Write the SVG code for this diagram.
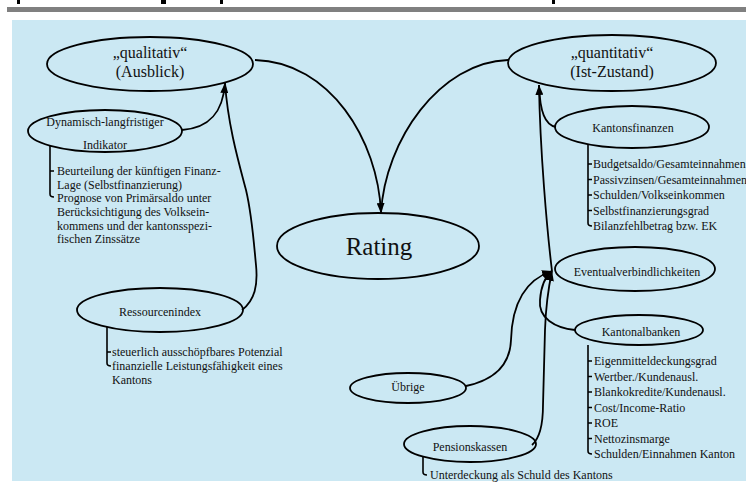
<svg xmlns="http://www.w3.org/2000/svg" width="746" height="493" viewBox="0 0 746 493">
<defs>
<marker id="arr" markerUnits="userSpaceOnUse" markerWidth="10" markerHeight="8" refX="10" refY="4" orient="auto">
<path d="M0,0 L10,4 L0,8 z" fill="#000"/>
</marker>
<style>
.n{fill:none;stroke:#000;stroke-width:1.8}
.c{fill:none;stroke:#000;stroke-width:1.8}
.b{fill:none;stroke:#000;stroke-width:1.6}
.t{font-family:"Liberation Serif","Times New Roman",serif;fill:#111}
.s{font-size:12px}
.m{font-size:16px}
.mid{text-anchor:middle}
</style>
</defs>
<rect x="0" y="0" width="746" height="493" fill="#fff"/>
<rect x="17" y="0" width="3" height="4" fill="#000"/>
<rect x="161" y="0" width="5" height="4" fill="#000"/>
<rect x="220" y="0" width="3" height="4" fill="#000"/>
<rect x="552" y="0" width="3" height="4" fill="#000"/>
<rect x="7" y="7" width="739" height="5" fill="#808080"/>
<rect x="12" y="20" width="734" height="461" fill="#cbe8f3"/>

<g id="connectors">
<path class="c" d="M255,60 C330,62 378,140 381,213" marker-end="url(#arr)"/>
<path class="c" d="M508,60 C440,62 385,140 381,213"/>
<path class="c" d="M182,130 C210,128 223,112 225,83" marker-end="url(#arr)"/>
<path class="c" d="M242,310 C255,300 258,285 256,265 C254,245 252,215 246,190 C238,160 228,125 225,83"/>
<path class="c" d="M556,127 C545,125 540,112 539,85" marker-end="url(#arr)"/>
<path class="c" d="M552,271 C547,230 540,150 539,85"/>
<path class="c" d="M575,330 C555,328 538,318 540,300 C541,285 546,276 552,271" marker-end="url(#arr)"/>
<path class="c" d="M466,386 C495,380 510,365 511,340 C512,305 525,280 552,271" marker-end="url(#arr)"/>
<path class="c" d="M532,445 C540,438 543,425 543,405 L545,330 C546,300 549,285 552,271" marker-end="url(#arr)"/>
</g>

<g id="qualitativ">
<ellipse class="n" cx="150" cy="64" rx="103" ry="27"/>
<text class="t m mid" x="150" y="58">„qualitativ“</text>
<text class="t m mid" x="150" y="77">(Ausblick)</text>
</g>

<g id="quantitativ">
<ellipse class="n" cx="612" cy="63" rx="104" ry="28"/>
<text class="t m mid" x="612" y="58">„quantitativ“</text>
<text class="t m mid" x="612" y="77">(Ist-Zustand)</text>
</g>

<g id="rating">
<ellipse class="n" cx="378" cy="246" rx="101" ry="33"/>
<text class="t mid" x="379" y="255" font-size="25">Rating</text>
</g>

<g id="dynamisch">
<ellipse class="n" cx="105" cy="131" rx="77" ry="21"/>
<text class="t s mid" x="105" y="126">Dynamisch-langfristiger</text>
<text class="t s mid" x="105" y="149">Indikator</text>
<path class="b" d="M50,146 L50,194 Q50,197 54,197 M50,171 L54,171"/>
<text class="t s" x="57" y="175">Beurteilung der künftigen Finanz-</text>
<text class="t s" x="57" y="189">Lage (Selbstfinanzierung)</text>
<text class="t s" x="57" y="202">Prognose von Primärsaldo unter</text>
<text class="t s" x="57" y="216">Berücksichtigung des Volksein-</text>
<text class="t s" x="57" y="230">kommens und der kantonsspezi-</text>
<text class="t s" x="57" y="243">fischen Zinssätze</text>
</g>

<g id="ressourcenindex">
<ellipse class="n" cx="160" cy="310" rx="83" ry="22"/>
<text class="t s mid" x="160" y="316">Ressourcenindex</text>
<path class="b" d="M107,327 L107,363 Q107,366 111,366 M107,352 L111,352"/>
<text class="t s" x="112" y="356">steuerlich ausschöpfbares Potenzial</text>
<text class="t s" x="112" y="370">finanzielle Leistungsfähigkeit eines</text>
<text class="t s" x="112" y="384">Kantons</text>
</g>

<g id="kantonsfinanzen">
<ellipse class="n" cx="632" cy="127" rx="77" ry="21"/>
<text class="t s mid" x="633" y="132">Kantonsfinanzen</text>
<path class="b" d="M588,144 L588,223 Q588,226 592,226 M588,164 L592,164 M588,179.5 L592,179.5 M588,195 L592,195 M588,210.5 L592,210.5"/>
<text class="t s" x="593" y="168">Budgetsaldo/Gesamteinnahmen</text>
<text class="t s" x="593" y="183.5">Passivzinsen/Gesamteinnahmen</text>
<text class="t s" x="593" y="199">Schulden/Volkseinkommen</text>
<text class="t s" x="593" y="214.5">Selbstfinanzierungsgrad</text>
<text class="t s" x="593" y="230">Bilanzfehlbetrag bzw. EK</text>
</g>

<g id="eventualverbindlichkeiten">
<ellipse class="n" cx="635" cy="269" rx="80" ry="22"/>
<text class="t s mid" x="637" y="276">Eventualverbindlichkeiten</text>
</g>

<g id="kantonalbanken">
<ellipse class="n" cx="639" cy="330" rx="64" ry="15"/>
<text class="t s mid" x="641" y="336">Kantonalbanken</text>
<path class="b" d="M588,345 L588,451 Q588,454 592,454 M588,361 L592,361 M588,376.5 L592,376.5 M588,392 L592,392 M588,407.5 L592,407.5 M588,423 L592,423 M588,438.5 L592,438.5"/>
<text class="t s" x="594" y="365">Eigenmitteldeckungsgrad</text>
<text class="t s" x="594" y="380.5">Wertber./Kundenausl.</text>
<text class="t s" x="594" y="396">Blankokredite/Kundenausl.</text>
<text class="t s" x="594" y="411.5">Cost/Income-Ratio</text>
<text class="t s" x="594" y="427">ROE</text>
<text class="t s" x="594" y="442.5">Nettozinsmarge</text>
<text class="t s" x="594" y="458">Schulden/Einnahmen Kanton</text>
</g>

<g id="uebrige">
<ellipse class="n" cx="408" cy="388" rx="58" ry="15"/>
<text class="t s mid" x="408" y="391">Übrige</text>
</g>

<g id="pensionskassen">
<ellipse class="n" cx="470" cy="444" rx="66" ry="18"/>
<text class="t s mid" x="470" y="451">Pensionskassen</text>
<path class="b" d="M423,457 L423,472 Q423,475 427,475"/>
<text class="t s" x="430" y="479">Unterdeckung als Schuld des Kantons</text>
</g>
</svg>
